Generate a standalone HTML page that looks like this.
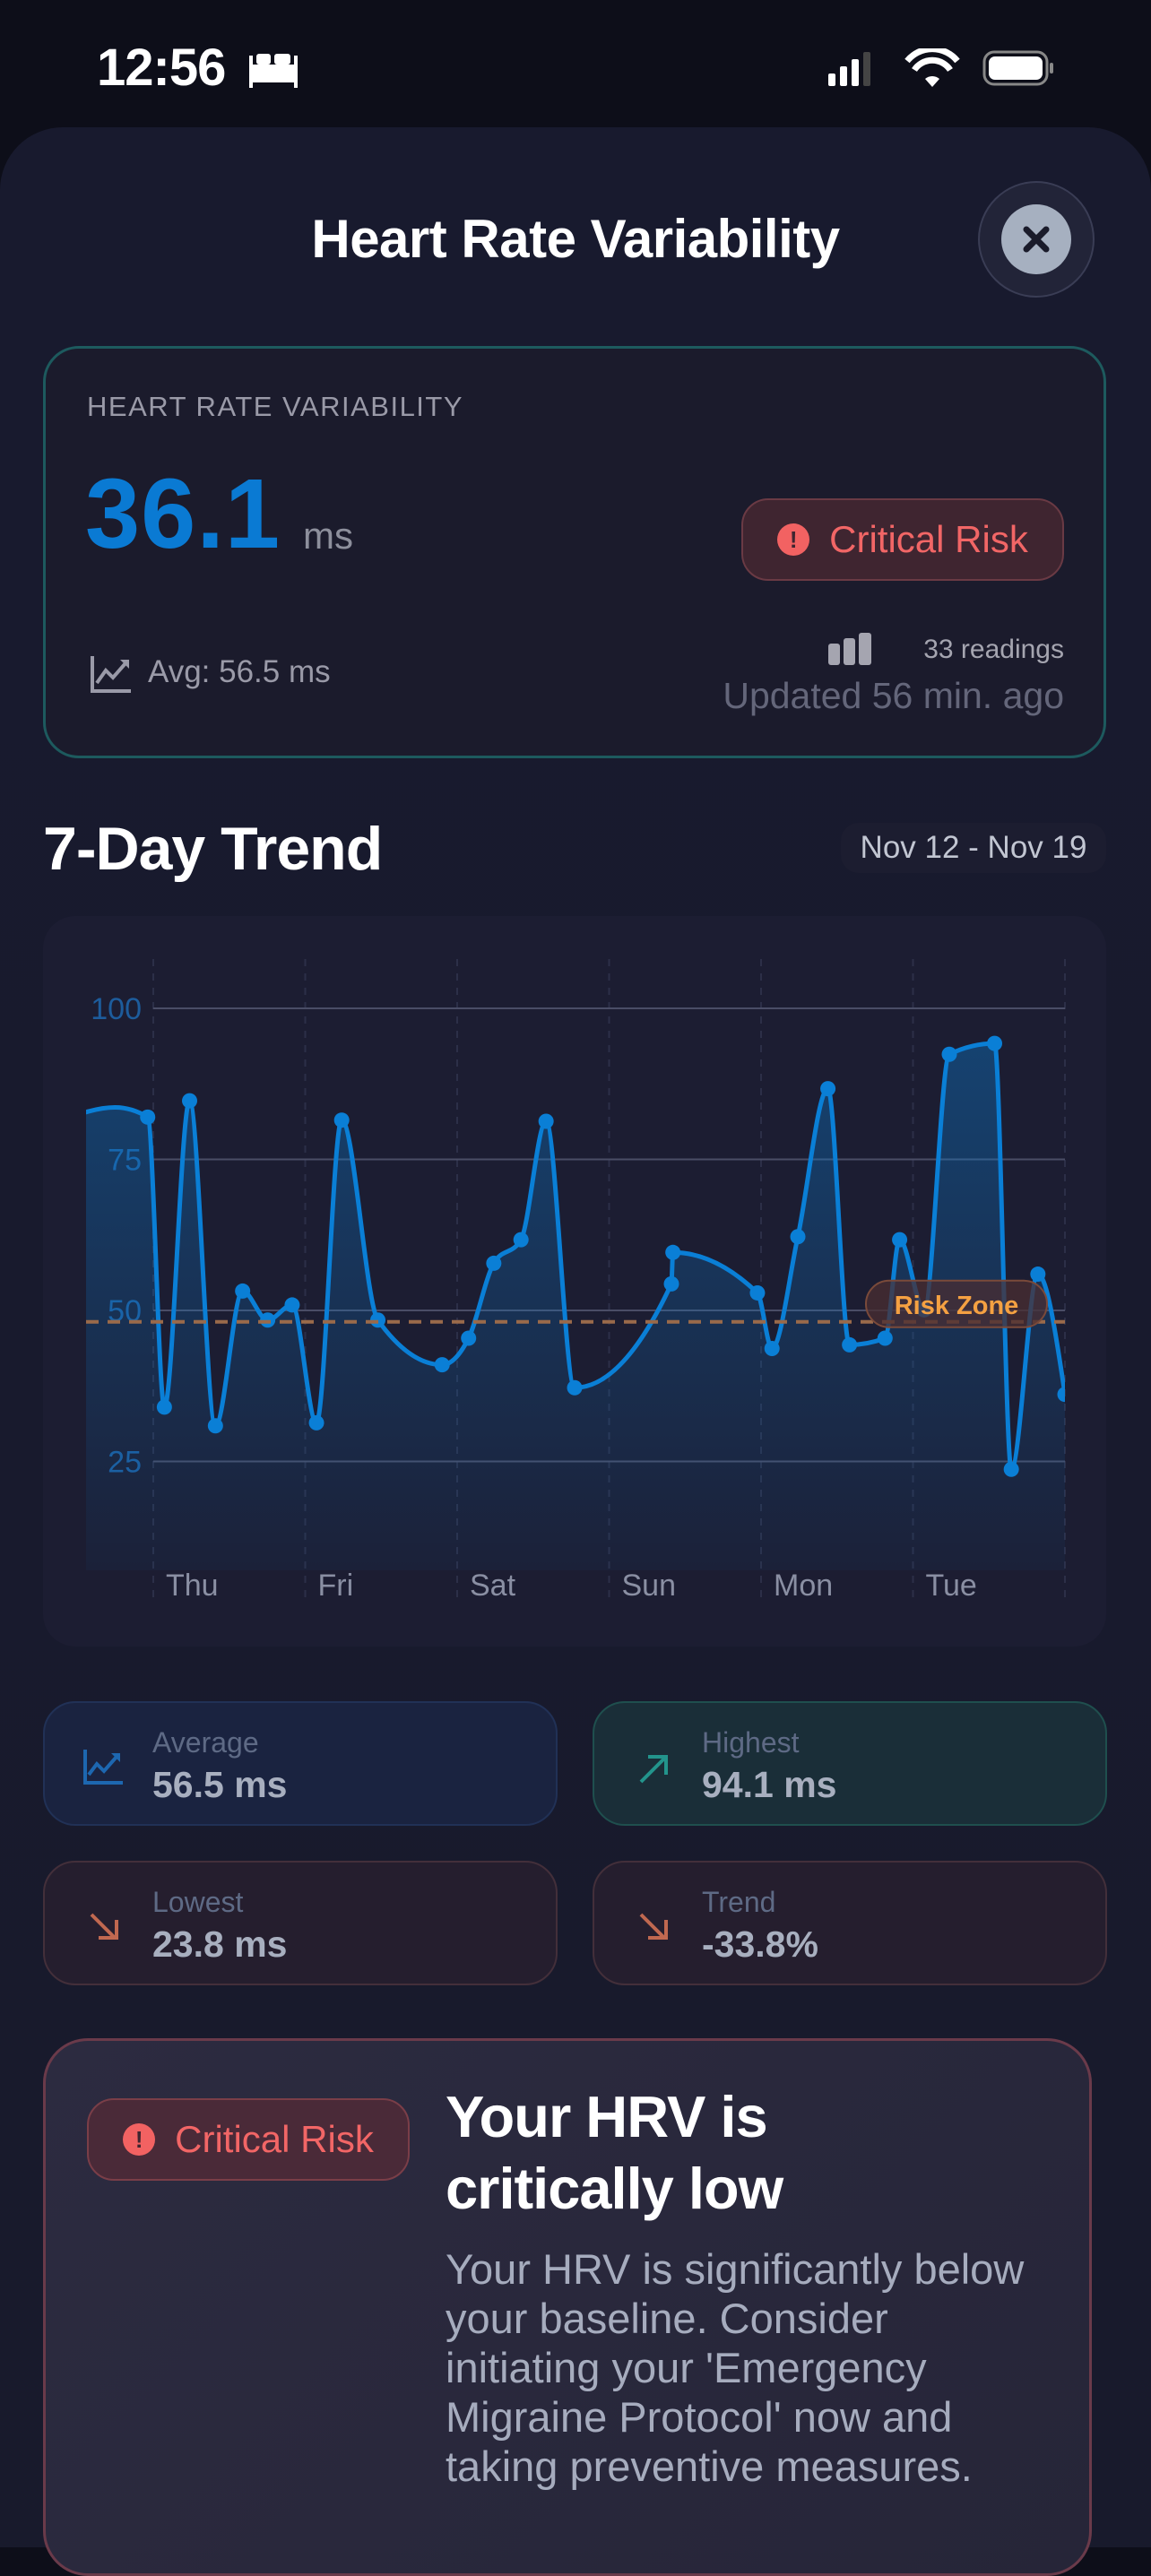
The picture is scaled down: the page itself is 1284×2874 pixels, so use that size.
<!DOCTYPE html>
<html><head><meta charset="utf-8">
<style>
*{margin:0;padding:0;box-sizing:border-box}
body{width:1284px;height:2778px;background:#0d0e19;font-family:"Liberation Sans",sans-serif;position:relative;overflow:hidden;color:#fff}
.abs{position:absolute}
.sheet{left:0;top:142px;width:1284px;height:2700px;background:linear-gradient(#181a2e,#181a2c);border-radius:70px 70px 0 0}
.card{border-radius:40px}
.pill{border-radius:30px;display:flex;align-items:center;justify-content:center;color:#f26666;font-size:42px}
.ico{width:36px;height:36px;border-radius:50%;background:#f26262;color:#3f2530;font-weight:bold;font-size:26px;display:flex;align-items:center;justify-content:center;margin-right:22px}
.stat{border-radius:36px;height:139px;width:574px}
.lab{font-size:32px;color:#5e6a85;position:absolute;left:120px;top:26px}
.val{font-size:41px;color:#a8afbf;font-weight:bold;position:absolute;left:120px;top:68px}
</style></head><body>
<div class="abs" style="left:108px;top:42px;font-size:58px;font-weight:bold;letter-spacing:-1px">12:56</div>
<svg class="abs" style="left:276px;top:54px" width="58" height="44"><path d="M2 8h4v10h46V8h4v36h-4v-6H6v6H2z M8 20h42v14H8z" fill="#fff"/><rect x="10" y="6" width="16" height="12" rx="3" fill="#fff"/><rect x="30" y="6" width="18" height="12" rx="3" fill="#fff"/></svg>
<svg class="abs" style="left:920px;top:54px" width="270" height="44">
<rect x="4" y="28" width="8" height="14" rx="2" fill="#fff"/><rect x="17" y="20" width="8" height="22" rx="2" fill="#fff"/><rect x="30" y="12" width="8" height="30" rx="2" fill="#fff"/><rect x="43" y="4" width="8" height="38" rx="2" fill="#444"/>
<path d="M92 14a36 36 0 0 1 56 0" stroke="#fff" stroke-width="7" fill="none"/><path d="M100 24a24 24 0 0 1 40 0" stroke="#fff" stroke-width="7" fill="none"/><path d="M112 34l8 9 8-9a12 12 0 0 0-16 0z" fill="#fff"/>
<rect x="178" y="4" width="70" height="36" rx="11" stroke="#888" stroke-width="3" fill="none"/><rect x="183" y="9" width="60" height="26" rx="7" fill="#fff"/><rect x="251" y="16" width="4" height="12" rx="2" fill="#888"/></svg>
<div class="abs sheet"></div>
<div class="abs" style="left:0;width:1284px;top:232px;text-align:center;font-size:60px;font-weight:bold;letter-spacing:-0.5px">Heart Rate Variability</div>
<div class="abs" style="left:1091px;top:202px;width:130px;height:130px;border-radius:50%;background:#222438;border:2px solid #3a3d55;display:flex;align-items:center;justify-content:center"><div style="width:78px;height:78px;border-radius:50%;background:#a6b0c0;display:flex;align-items:center;justify-content:center"><svg width="34" height="34"><path d="M6 6L28 28M28 6L6 28" stroke="#1a1b2a" stroke-width="7" stroke-linecap="round"/></svg></div></div>

<div class="abs card" style="left:48px;top:386px;width:1186px;height:460px;background:#1b1b2c;border:3px solid #1d5a5e"></div>
<div class="abs" style="left:97px;top:436px;font-size:31px;color:#9a9aa8;letter-spacing:1.5px">HEART RATE VARIABILITY</div>
<div class="abs" style="left:95px;top:510px;font-size:110px;font-weight:bold;color:#0a7ad3;letter-spacing:1px">36.1</div>
<div class="abs" style="left:338px;top:574px;font-size:42px;color:#8d8f9c">ms</div>
<div class="abs pill" style="left:827px;top:556px;width:360px;height:92px;background:#3f2530;border:2px solid #6a3a44"><div class="ico">!</div>Critical Risk</div>
<svg class="abs" style="left:100px;top:730px" width="48" height="44"><path d="M3 2v39h43" stroke="#9a9aa8" stroke-width="4" fill="none"/><path d="M8 32l10-14 8 8 14-16" stroke="#9a9aa8" stroke-width="4" fill="none"/><path d="M34 6h10v10z" fill="#9a9aa8"/></svg>
<div class="abs" style="left:165px;top:730px;font-size:35px;color:#9a9aa8">Avg: 56.5 ms</div>
<svg class="abs" style="left:924px;top:706px" width="50" height="36"><rect x="0" y="12" width="13" height="24" rx="3" fill="#a5a5b0"/><rect x="17" y="6" width="13" height="30" rx="3" fill="#a5a5b0"/><rect x="34" y="0" width="14" height="36" rx="3" fill="#a5a5b0"/></svg>
<div class="abs" style="right:97px;top:708px;font-size:30px;color:#a5a5b0">33 readings</div>
<div class="abs" style="right:97px;top:753px;font-size:41px;color:#64667a">Updated 56 min. ago</div>

<div class="abs" style="left:48px;top:908px;font-size:68px;font-weight:bold;letter-spacing:-1px">7-Day Trend</div>
<div class="abs" style="left:938px;top:918px;width:296px;height:56px;border-radius:20px;background:#1c1d30;font-size:35px;color:#c2c6d2;display:flex;align-items:center;justify-content:center">Nov 12 - Nov 19</div>

<div class="abs card" style="left:48px;top:1022px;width:1186px;height:815px;background:#1c1d32;border-radius:36px"></div>
<svg class="abs" id="chart" style="left:48px;top:1022px" width="1186" height="815"></svg>

<div class="abs stat" style="left:48px;top:1898px;background:#1a2340;border:2px solid #213156"><svg class="abs" style="left:42px;top:52px" width="46" height="40"><path d="M3 0v37h42" stroke="#1d67b0" stroke-width="4" fill="none"/><path d="M7 28l9-12 8 8 14-16" stroke="#1d67b0" stroke-width="4" fill="none"/><path d="M32 4h10v10z" fill="#1d67b0"/></svg><div class="lab">Average</div><div class="val">56.5 ms</div></div>
<div class="abs stat" style="left:661px;top:1898px;background:#1a2e38;border:2px solid #1f4f4e"><svg class="abs" style="left:46px;top:54px" width="40" height="40"><path d="M6 34L32 8M14 6h20v20" stroke="#23948c" stroke-width="4" fill="none"/></svg><div class="lab">Highest</div><div class="val">94.1 ms</div></div>
<div class="abs stat" style="left:48px;top:2076px;background:#251e2e;border:2px solid #432f3a"><svg class="abs" style="left:46px;top:52px" width="40" height="40"><path d="M6 6L32 32M34 12v20H14" stroke="#c06850" stroke-width="4" fill="none"/></svg><div class="lab">Lowest</div><div class="val">23.8 ms</div></div>
<div class="abs stat" style="left:661px;top:2076px;background:#251e2e;border:2px solid #432f3a"><svg class="abs" style="left:46px;top:52px" width="40" height="40"><path d="M6 6L32 32M34 12v20H14" stroke="#c06850" stroke-width="4" fill="none"/></svg><div class="lab">Trend</div><div class="val">-33.8%</div></div>

<div class="abs" style="left:48px;top:2274px;width:1170px;height:600px;border-radius:50px;background:linear-gradient(135deg,#2c2b40,#262538);border:3px solid #6a3a4a"></div>
<div class="abs pill" style="left:97px;top:2341px;width:360px;height:92px;background:#4a2a38;border:2px solid #7a3e48"><div class="ico">!</div>Critical Risk</div>
<div class="abs" style="left:497px;top:2322px;font-size:65px;font-weight:bold;line-height:80px;letter-spacing:-1px">Your HRV is<br>critically low</div>
<div class="abs" style="left:497px;top:2504px;width:740px;font-size:47px;line-height:55px;color:#a6acbe;white-space:nowrap">Your HRV is significantly below<br>your baseline. Consider<br>initiating your 'Emergency<br>Migraine Protocol' now and<br>taking preventive measures.</div>

<script>
const dayLabels=["Thu","Fri","Sat","Sun","Mon","Tue"];
const yTicks=[100,75,50,25];
const riskLevel=48.1;
const times=[-0.6,-0.25,-0.037,0.073,0.239,0.409,0.588,0.753,0.914,1.074,1.240,1.478,1.901,2.075,2.241,2.420,2.585,2.773,3.41,3.42,3.976,4.072,4.242,4.440,4.582,4.816,4.912,5.073,5.239,5.537,5.647,5.822,6.0];
const values=[81.5,83.6,82.0,34.0,84.7,30.9,53.2,48.4,50.9,31.4,81.5,48.4,41.0,45.4,57.8,61.7,81.3,37.2,54.4,59.6,52.9,43.7,62.2,86.7,44.3,45.4,61.7,50.1,92.4,94.2,23.7,56.0,36.1];
const hasDot=values.map((v,i)=>i>1);
const NS="http://www.w3.org/2000/svg";
const svg=document.getElementById('chart');
const X=d=>123+d*169.5, Y=v=>103+(100-v)*6.74;
const left=48,right=1140,bottom=730;
function mk(t,a){const e=document.createElementNS(NS,t);for(const k in a)e.setAttribute(k,a[k]);svg.appendChild(e);return e;}
const defs=mk('defs',{});
defs.innerHTML='<linearGradient id="g" x1="0" y1="0" x2="0" y2="1"><stop offset="0" stop-color="#0a7fd6" stop-opacity="0.38"/><stop offset="1" stop-color="#0a7fd6" stop-opacity="0.04"/></linearGradient><clipPath id="cp"><rect x="'+left+'" y="0" width="'+(right-left)+'" height="'+bottom+'"/></clipPath>';
for(let i=0;i<=6;i++){const l=mk('line',{x1:X(i),x2:X(i),y1:48,y2:761,stroke:'#2c2f48','stroke-width':2,'stroke-dasharray':'8 8'});}
yTicks.forEach(v=>{const l=mk('line',{x1:X(0),x2:right,y1:Y(v),y2:Y(v),stroke:'#4a4d66','stroke-width':2});
const t=mk('text',{x:110,y:Y(v)+12,'text-anchor':'end','font-size':34,fill:'#1d5c9c','font-family':'Liberation Sans'});t.textContent=v;});
const P=times.map((t,i)=>[X(t),Y(values[i])]);
const n=P.length, sl=[], tg=[];
for(let i=0;i<n-1;i++)sl.push((P[i+1][1]-P[i][1])/(P[i+1][0]-P[i][0]));
for(let i=1;i<n-1;i++){const h0=P[i][0]-P[i-1][0],h1=P[i+1][0]-P[i][0],s0=sl[i-1],s1=sl[i];const p=(s0*h1+s1*h0)/(h0+h1);
tg[i]=(Math.sign(s0)+Math.sign(s1))*Math.min(Math.abs(s0),Math.abs(s1),0.5*Math.abs(p))||0;}
tg[0]=(3*sl[0]-tg[1])/2; tg[n-1]=(3*sl[n-2]-tg[n-2])/2;
let d='M'+P[0][0]+','+P[0][1];
for(let i=0;i<n-1;i++){const dx=(P[i+1][0]-P[i][0])/3;
d+=' C'+(P[i][0]+dx)+','+(P[i][1]+dx*tg[i])+' '+(P[i+1][0]-dx)+','+(P[i+1][1]-dx*tg[i+1])+' '+P[i+1][0]+','+P[i+1][1];}
const g=mk('g',{'clip-path':'url(#cp)'});
const area=document.createElementNS(NS,'path');area.setAttribute('d',d+' L'+P[n-1][0]+','+bottom+' L'+P[0][0]+','+bottom+'Z');area.setAttribute('fill','url(#g)');g.appendChild(area);


const line=document.createElementNS(NS,'path');line.setAttribute('d',d);line.setAttribute('fill','none');line.setAttribute('stroke','#0a7fd6');line.setAttribute('stroke-width',5);g.appendChild(line);


P.forEach((p,i)=>{if(!hasDot[i])return;const c=document.createElementNS(NS,'circle');c.setAttribute('cx',p[0]);c.setAttribute('cy',p[1]);c.setAttribute('r',8.5);c.setAttribute('fill','#0a7fd6');g.appendChild(c);

});
const rl=mk('line',{x1:left,x2:right,y1:Y(riskLevel),y2:Y(riskLevel),stroke:'#9a6a4a','stroke-width':4,'stroke-dasharray':'14 10'});


const rp=mk('rect',{x:918,y:Y(riskLevel)-46,width:202,height:52,rx:26,fill:'#4a2e32','fill-opacity':0.75,stroke:'#7a4a3a','stroke-width':2});


const rt=mk('text',{x:1019,y:Y(riskLevel)-9,'text-anchor':'middle','font-size':29,'font-weight':'bold',fill:'#f5a142','font-family':'Liberation Sans'});rt.textContent='Risk Zone';


dayLabels.forEach((s,i)=>{const t=mk('text',{x:X(i)+14,y:758,'font-size':34,fill:'#8a8fa3','font-family':'Liberation Sans'});t.textContent=s;

});
</script>
</body></html>
